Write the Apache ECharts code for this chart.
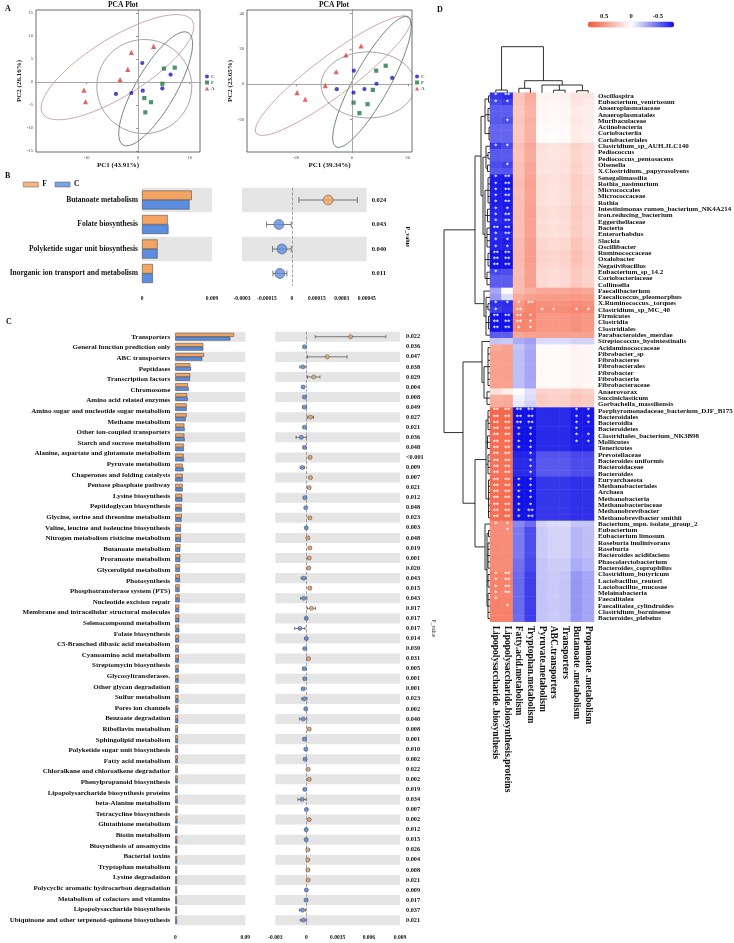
<!DOCTYPE html>
<html><head><meta charset="utf-8">
<script src="https://cdn.jsdelivr.net/npm/echarts@6/dist/echarts.min.js"></script>
<style>html,body{margin:0;padding:0;background:#fff}#c{width:734px;height:943px}</style>
</head><body><div id="c"></div>
<script>
// ---------------- DATA ----------------
// Panel A: PCA scores [PC1, PC2]
const PCA1_C = [[0.8,4.1],[-4.3,-2.6],[-1.3,-2.4],[0.9,-1.9],[6.3,1.6],[4.7,-1.4]];
const PCA1_F = [[5.0,2.9],[7.1,3.1],[4.7,-0.4],[1.2,-3.5],[2.5,-4.4],[1.4,-6.6]];
const PCA1_A = [[-10.5,-1.8],[-10.2,-4.3],[-3.5,0.5],[-2.0,2.7],[-1.3,6.4],[3.0,7.7]];
// ellipse: [cx, cy, axis1x, axis1y, axis2x, axis2y]
const PCA1_ELL_A = [-4.0,3.2,14.5,10.1,3.0,-5.3];
const PCA1_ELL_C = [1.2,-1.0,9.2,0,0,10.2];
const PCA1_ELL_F = [3.4,-1.5,6.3,12.2,3.4,-2.1];
const PCA1_XTICKS = [-10,0,10];
const PCA1_YTICKS = [-15,-10,-5,0,5,10,15];

const PCA2_C = [[-5.4,-2.8],[0.7,7.7],[0.6,-4.7],[4.5,-2.7],[8.8,0.3],[14.4,3.6]];
const PCA2_F = [[8.7,7.7],[12.1,10.5],[7.5,-3.2],[0.6,-10.4],[5.6,-11.3],[2.7,-16.4]];
const PCA2_A = [[-19.6,-4.7],[-16.7,-8.5],[-9.5,-0.8],[-5.6,7.1],[-2.1,16.6],[3.3,21.7]];
const PCA2_ELL_A = [-6.7,4.9,27.5,32.7,4.2,-9.0];
const PCA2_ELL_C = [5.8,-0.4,16.8,0,0,18.7];
const PCA2_ELL_F = [7.2,1.3,12.9,36.8,5.6,-4.9];
const PCA2_XTICKS = [-20,0,20];
const PCA2_YTICKS = [-20,0,20,40];

// Panel B
const B_CATS = ['Butanoate metabolism','Folate biosynthesis','Polyketide sugar unit biosynthesis','Inorganic ion transport and metabolism'];
const B_F = [0.0064,0.0033,0.0020,0.0014];
const B_C = [0.0061,0.0034,0.0020,0.0014];
const B_MEAN = [0.000218,-0.000078,-0.00006,-0.000072];
const B_ERR = [0.000176,0.000074,0.000056,0.000042];
const B_P = ['0.024','0.043','0.040','0.011'];
const B_BAR_TICKS = [0,0.009], B_BAR_LABELS = ['0','0.009'];
const B_CI_TICKS = [-0.0003,-0.00015,0,0.00015,0.0003,0.00045];
const B_CI_LABELS = ['-0.0003','-0.00015','0','0.00015','0.0003','0.00045'];

// Panel C
const C_CATS = ['Transporters','General function prediction only','ABC transporters','Peptidases','Transcription factors','Chromosome','Amino acid related enzymes','Amino sugar and nucleotide sugar metabolism','Methane metabolism','Other ion-coupled transporters','Starch and sucrose metabolism','Alanine, aspartate and glutamate metabolism','Pyruvate metabolism','Chaperones and folding catalysts','Pentose phosphate pathway','Lysine biosynthesis','Peptidoglycan biosynthesis','Glycine, serine and threonine metabolism','Valine, leucine and isoleucine biosynthesis','Nitrogen metabolism risticine metabolism','Butanoate metabolism','Proranoate metabolism','Glycerolipid metabolism','Photosynthesis','Phosphotransferase system (PTS)','Nucleotide excision repair','Membrane and intracellular structural molecules','Selenocompound metabolism','Folate biosynthesis','C5-Branched dibasic acid metabolism','Cyanoamino acid metabolism','Streptomycin biosynthesis','Glycosyltransferases.','Other glycan degradation','Sulfur metabolism','Pores ion channels','Benzoate degradation','Riboflavin metabolism','Sphingolipid metabolism','Polyketide sugar unit biosynthesis','Fatty acid metabolism','Chloralkane and chloroalkene degradatior','Phenylpropanoid biosynthesis','Lipopolysarcharide biosynthesis proteins','beta-Alanine metabolism','Tetracycline biosynthesis','Glutathione metabolism','Biotin metabolism','Biosynthesis of ansamycins','Bacterial toxins','Tryptophan metabolism','Lysine degradation','Polycyclic aromatic hydrocarbon degradation','Metabolism of cofactors and vitamins','Lipopolysaccharide biosynthesis','Ubiquinone and other terpenoid-quinone biosynthesis'];
const C_P = ['0.022','0.036','0.047','0.038','0.029','0.004','0.008','0.049','0.027','0.021','0.036','0.048','<0.001','0.009','0.007','0.021','0.012','0.048','0.023','0.003','0.048','0.019','0.001','0.020','0.043','0.015','0.043','0.017','0.017','0.017','0.014','0.030','0.031','0.005','0.001','0.001','0.023','0.002','0.040','0.008','0.001','0.010','0.002','0.022','0.002','0.019','0.034','0.007','0.002','0.012','0.015','0.026','0.004','0.008','0.021','0.009','0.017','0.037','0.021'];
const C_F = [0.0755,0.0360,0.0369,0.0193,0.0193,0.0163,0.0154,0.0146,0.0146,0.0116,0.0116,0.0111,0.0107,0.0094,0.0094,0.0094,0.0086,
 0.0082,0.0082,0.0073,0.0073,0.0066,0.0064,0.0060,0.0058,0.0056,0.0054,0.0052,0.0051,0.0049,0.0047,0.0046,0.0045,0.0043,0.0041,0.0040,0.0039,0.0038,0.0036,0.0035,0.0034,0.0033,0.0032,0.0031,0.0030,0.0030,0.0029,0.0028,0.0027,0.0027,0.0026,0.0025,0.0025,0.0024,0.0023,0.0023,0.0022,0.0022,0.0021];
const C_C = [0.0707,0.0360,0.0347,0.0202,0.0189,0.0172,0.0159,0.0146,0.0133,0.0120,0.0120,0.0111,0.0111,0.0107,0.0094,0.0094,0.0090,
 0.0083,0.0080,0.0073,0.0072,0.0064,0.0063,0.0059,0.0060,0.0055,0.0056,0.0050,0.0051,0.0052,0.0047,0.0047,0.0044,0.0044,0.0042,0.0041,0.0040,0.0038,0.0037,0.0034,0.0034,0.0034,0.0031,0.0031,0.0030,0.0029,0.0030,0.0028,0.0027,0.0026,0.0026,0.0025,0.0024,0.0024,0.0023,0.0023,0.0022,0.0022,0.0022];
const C_MEAN = [0.00424,-0.00019,0.00200,-0.00035,0.00070,-0.00032,-0.00019,-0.00019,0.00038,-0.00019,-0.00050,-0.00019,0.00035,-0.00040,0.00038,0.00026,-0.00016,
 -0.00007,0.00032,-0.00002,0.00013,0.00032,0.00026,0.00022,-0.00026,0.00032,-0.00026,0.00048,-0.00002,-0.00064,-0.00002,-0.00016,0.00019,-0.00020,-0.00016,-0.00032,-0.00020,-0.00007,-0.00032,0.00026,
 -0.00019,-0.00006,-0.00013,0.00016,0.00026,-0.00016,-0.00042,-0.00001,0.00026,-0.00003,-0.00003,0.00013,0.00013,0.00013,0.00016,-0.00001,-0.00003,-0.00038,-0.00029];
const C_ERR = [0.0034,0.00012,0.0019,0.0003,0.0006,0.00012,0.00012,0.0002,0.0003,0.00012,0.0005,0.00012,0.00012,0.0002,0.00012,0.00012,0.00012,
 0.0001,0.00012,0.0001,0.00012,0.00012,0.00012,0.0001,0.00025,0.00012,0.0003,0.0004,0.00012,0.0005,0.00012,0.00012,0.00012,0.00015,0.00012,0.00015,0.00025,0.0001,0.00035,0.00012,
 0.00012,0.0001,0.00012,0.00012,0.00012,0.00012,0.0004,0.0001,0.00012,0.0001,0.0001,0.00012,0.00012,0.00012,0.00012,0.0001,0.0001,0.0003,0.0003];
const C_BAR_TICKS = [0,0.09], C_BAR_LABELS = ['0','0.09'];
const C_CI_TICKS = [-0.003,0,0.003,0.006,0.009];
const C_CI_LABELS = ['-0.003','0','0.0035','0.006','0.009'];

// Panel D
const D_COLS = ['Lipopolysaccharide .biosynthesis','Lipopolysaccharide.biosynthesis.proteins','Fatty.acid.metabolism','Tryptophan.metabolism','Pyruvate.metabolism','ABC.transporters','Transporters','Butanoate .metabolism','Propanoate .metabolism'];
const D_ROWS = ['Oscillospira','Eubacterium_ventriosum','Anaeroplasmataceae','Anaeroplasmatales','Muribaculaceae','Actinobacteria','Coriobacteriia','Coriobacteriales','Clostridium_sp_AUH.JLC140','Pediococcus','Pediococcus_pentosaceus','Olsenella','X.Clostridium._papyrosolvens','Senegalimassilia','Rothia_nasimurium','Micrococcales','Micrococcaceae','Rothia','Intestinimonas rumen_bacterium_NK4A214','iron.reducing_bacterium','Eggerthellaceae','Bacteria','Enterorhabdus','Slackia','Oscillibacter','Ruminococcaceae','Oxalobacter','Negativibacillus','Eubacterium_sp_14.2','Coriobacteriaceae','Collinsella','Faecalibacterium','Faecalicoccus_pleomorphus','X.Ruminococcus._torques','Clostridium_sp_MC_40','Firmicutes','Clostridia','Clostridiales','Parabacteroides_merdae','Streptococcus_hyointestinalis','Acidaminococcaceae','Fibrobacter_sp','Fibrobacteres','Fibrobacterales','Fibrobacter','Fibrobacteria','Fibrobacteraceae','Anaerovorax','Succiniclasticum','Gorbachella_massiliensis','Porphyromonadaceae_bacterium_DJF_B175','Bacteroidales','Bacteroidia','Bacteroidetes','Clostridiales_bacterium_NK3B98','Mollicutes','Tenericutes','Prevotellaceae','Bacteroides uniformis','Bacteroidaceae','Bacteroides','Euryarchaeota','Methanobacteriales','Archaea','Methanobacteria','Methanobacteriaceae','Methanobrevibacter','Methanobrevibacter smithii','Bacterium_mpn. isolate_group_2','Eubacterium','Eubacterium limosum','Roseburia inulinivorans','Roseburia','Bacteroides acidifaciens','Phascolarctobacterium','Bacteroides_coprophilus','Clostridium_butyricum','Lactobacillus_reuteri','Lactobacillus_mucosae','Melainabacteria','Faecalitalea','Faecalitalea_cylindroides','Clostridium_borninense','Bacteroides_plebeius'];
const HEAT = [
[-0.68,-0.72,0.28,0.40,0.06,0.05,0.06,0.14,0.12],
[-0.62,-0.66,0.27,0.38,0.05,0.04,0.05,0.12,0.10],
[-0.55,-0.55,0.26,0.36,0.04,0.03,0.04,0.10,0.08],
[-0.55,-0.55,0.26,0.36,0.04,0.03,0.04,0.10,0.08],
[-0.56,-0.60,0.27,0.38,0.04,0.03,0.04,0.12,0.09],
[-0.52,-0.52,0.26,0.37,0.03,0.02,0.03,0.10,0.08],
[-0.52,-0.52,0.26,0.37,0.02,0.01,0.02,0.09,0.07],
[-0.52,-0.52,0.26,0.37,0.02,0.01,0.02,0.09,0.07],
[-0.68,-0.62,0.30,0.42,0.15,0.13,0.15,0.22,0.18],
[-0.56,-0.56,0.28,0.40,0.13,0.12,0.14,0.20,0.16],
[-0.56,-0.56,0.28,0.40,0.13,0.12,0.14,0.20,0.16],
[-0.60,-0.64,0.30,0.42,0.14,0.13,0.15,0.22,0.17],
[-0.56,-0.58,0.29,0.41,0.13,0.12,0.14,0.20,0.16],
[-0.76,-0.78,0.30,0.44,0.16,0.14,0.16,0.24,0.19],
[-0.78,-0.80,0.31,0.45,0.16,0.14,0.16,0.24,0.19],
[-0.76,-0.78,0.30,0.44,0.15,0.13,0.15,0.23,0.18],
[-0.76,-0.78,0.30,0.44,0.15,0.13,0.15,0.23,0.18],
[-0.76,-0.78,0.30,0.44,0.15,0.13,0.15,0.23,0.18],
[-0.74,-0.76,0.31,0.45,0.17,0.15,0.17,0.25,0.20],
[-0.74,-0.76,0.31,0.45,0.17,0.15,0.17,0.25,0.20],
[-0.72,-0.74,0.30,0.44,0.16,0.14,0.16,0.24,0.19],
[-0.76,-0.78,0.31,0.45,0.17,0.15,0.17,0.25,0.20],
[-0.72,-0.74,0.30,0.44,0.16,0.14,0.16,0.24,0.19],
[-0.74,-0.76,0.32,0.46,0.19,0.17,0.19,0.28,0.22],
[-0.74,-0.74,0.32,0.46,0.19,0.17,0.19,0.28,0.22],
[-0.82,-0.82,0.33,0.47,0.21,0.19,0.21,0.30,0.24],
[-0.82,-0.82,0.33,0.47,0.21,0.19,0.21,0.30,0.24],
[-0.80,-0.80,0.32,0.46,0.20,0.18,0.20,0.28,0.23],
[-0.62,-0.60,0.31,0.45,0.18,0.16,0.18,0.26,0.21],
[-0.55,-0.55,0.32,0.46,0.18,0.16,0.18,0.26,0.21],
[-0.55,-0.55,0.32,0.46,0.18,0.16,0.18,0.26,0.21],
[-0.30,0.02,0.32,0.38,0.42,0.42,0.42,0.44,0.42],
[-0.35,-0.12,0.40,0.45,0.48,0.48,0.48,0.50,0.48],
[-0.70,-0.72,0.50,0.58,0.52,0.52,0.52,0.55,0.52],
[-0.65,-0.70,0.52,0.58,0.55,0.55,0.55,0.58,0.56],
[-0.85,-0.85,0.60,0.60,0.50,0.50,0.50,0.52,0.50],
[-0.88,-0.88,0.58,0.58,0.50,0.50,0.50,0.52,0.50],
[-0.88,-0.88,0.58,0.58,0.50,0.50,0.50,0.52,0.50],
[-0.55,-0.55,0.42,0.45,0.45,0.45,0.45,0.45,0.45],
[-0.20,-0.18,-0.28,-0.32,-0.12,-0.12,-0.12,-0.15,-0.15],
[0.42,0.45,-0.20,-0.28,0.03,0.02,0.02,0.05,0.04],
[0.45,0.45,-0.22,-0.30,0.03,0.02,0.03,0.05,0.04],
[0.45,0.45,-0.22,-0.30,0.03,0.02,0.03,0.05,0.04],
[0.45,0.45,-0.22,-0.30,0.03,0.02,0.03,0.05,0.04],
[0.45,0.45,-0.22,-0.30,0.03,0.02,0.03,0.05,0.04],
[0.45,0.45,-0.22,-0.30,0.03,0.02,0.03,0.05,0.04],
[0.45,0.45,-0.22,-0.30,0.03,0.02,0.03,0.05,0.04],
[0.15,0.08,0.00,-0.10,0.22,0.20,0.20,0.25,0.22],
[0.38,0.40,-0.05,-0.12,0.25,0.22,0.22,0.28,0.25],
[0.40,0.42,-0.08,-0.15,0.24,0.22,0.22,0.26,0.24],
[0.72,0.72,-0.86,-0.86,-0.72,-0.72,-0.72,-0.78,-0.78],
[0.72,0.72,-0.86,-0.86,-0.72,-0.72,-0.72,-0.78,-0.78],
[0.72,0.72,-0.86,-0.86,-0.72,-0.72,-0.72,-0.78,-0.78],
[0.72,0.72,-0.86,-0.86,-0.72,-0.72,-0.72,-0.78,-0.78],
[0.70,0.70,-0.80,-0.80,-0.72,-0.72,-0.72,-0.76,-0.76],
[0.70,0.70,-0.80,-0.80,-0.72,-0.72,-0.72,-0.76,-0.76],
[0.70,0.70,-0.80,-0.80,-0.72,-0.72,-0.72,-0.76,-0.76],
[0.68,0.68,-0.74,-0.74,-0.58,-0.58,-0.58,-0.62,-0.62],
[0.68,0.68,-0.72,-0.72,-0.56,-0.56,-0.56,-0.60,-0.60],
[0.68,0.68,-0.72,-0.72,-0.56,-0.56,-0.56,-0.60,-0.60],
[0.68,0.68,-0.72,-0.72,-0.56,-0.56,-0.56,-0.60,-0.60],
[0.70,0.70,-0.82,-0.82,-0.68,-0.68,-0.68,-0.70,-0.70],
[0.70,0.70,-0.82,-0.82,-0.68,-0.68,-0.68,-0.70,-0.70],
[0.70,0.70,-0.82,-0.82,-0.68,-0.68,-0.68,-0.70,-0.70],
[0.70,0.70,-0.82,-0.82,-0.68,-0.68,-0.68,-0.70,-0.70],
[0.70,0.70,-0.82,-0.82,-0.68,-0.68,-0.68,-0.70,-0.70],
[0.70,0.70,-0.84,-0.84,-0.68,-0.68,-0.68,-0.70,-0.70],
[0.70,0.70,-0.84,-0.84,-0.68,-0.68,-0.68,-0.70,-0.70],
[0.55,0.55,-0.40,-0.50,-0.15,-0.12,-0.12,-0.20,-0.20],
[0.55,0.55,-0.45,-0.60,-0.18,-0.15,-0.15,-0.25,-0.22],
[0.55,0.55,-0.45,-0.60,-0.18,-0.15,-0.15,-0.25,-0.22],
[0.55,0.55,-0.45,-0.60,-0.18,-0.15,-0.15,-0.25,-0.22],
[0.55,0.55,-0.45,-0.60,-0.18,-0.15,-0.15,-0.25,-0.22],
[0.55,0.55,-0.45,-0.60,-0.18,-0.15,-0.15,-0.25,-0.22],
[0.55,0.55,-0.48,-0.62,-0.20,-0.17,-0.17,-0.28,-0.24],
[0.55,0.55,-0.48,-0.62,-0.20,-0.17,-0.17,-0.28,-0.24],
[0.60,0.60,-0.50,-0.65,-0.20,-0.18,-0.20,-0.35,-0.30],
[0.60,0.60,-0.50,-0.65,-0.20,-0.18,-0.20,-0.35,-0.30],
[0.60,0.60,-0.50,-0.65,-0.20,-0.18,-0.20,-0.35,-0.30],
[0.58,0.58,-0.50,-0.65,-0.20,-0.18,-0.20,-0.35,-0.30],
[0.60,0.60,-0.50,-0.65,-0.20,-0.18,-0.20,-0.35,-0.30],
[0.60,0.60,-0.50,-0.65,-0.20,-0.18,-0.20,-0.35,-0.30],
[0.60,0.60,-0.50,-0.65,-0.20,-0.18,-0.20,-0.35,-0.30],
[0.60,0.60,-0.50,-0.65,-0.20,-0.18,-0.20,-0.35,-0.30]
];
// significance: 0 none, 1 '*', 2 '**' for each of the 9 columns
const STARS = ['120000000','110000000','000000000','000000000','010000000','000000000','000000000','000000000','110000000','000000000','000000000','010000000','000000000',
'120000000','120000000','120000000','120000000','120000000','110000000','120000000','120000000','220000000','120000000','110000000','110000000','220000000','220000000','220000000','100000000','000000000','000000000',
'000000000','000000000','111200000','102011011','222100000','222100000','221100000','000000000',
'000000000','000000000','000000000','000000000','000000000','000000000','000000000','000000000','000000000','000000000','000000000',
'222200011','222200011','222200011','221100010','221100011','221100011','221100000','220100000','220100000','220100000','220100000',
'221100000','221100000','221100000','221100000','221100000','221200000','221200000',
'110000000','010000000','000000000','000000000','000000000','000000000','000000000','000000000','120000000','120000000','120000000','120000000','100000000','010000000','000000000','000000000'];
// dendrograms: [height, [children]] ; leaves = row/column index
const ROW_TREE = [46, [
  [15, [
    [9, [
      [5, [[1.5,[0,1]], [2,[2,3,4]], [1,[5,6,7]]]],
      [7, [
        [4, [8, [2,[9,10]], [2.5,[11,12]]]],
        [5, [[2,[13,14,15,16,17]], [2.5,[18,19,20]], [3,[21,22,23,24]], [2,[25,26,27]], [3,[28,29,30]]]]
      ]]
    ]],
    [6, [31, [4, [32, [2,[33,34]], [1.5,[35,36,37]], 38]]]]
  ]],
  [27, [
    [8, [39, [6, [[2,[40,41,42,43,44,45,46]], [3,[47,48,49]]]]]],
    [15, [
      [4, [[2,[50,51,52,53]], [2.5,[54,55,56]], [2,[57,58,59,60]], [1.5,[61,62,63,64,65,66,67]]]],
      [5, [68, [3, [[1.5,[69,70]], [2,[71,72,73,74,75]], [2,[76,77,78]], [2,[79,80,81,82,83]]]]]]
    ]]
  ]]
]];
const COL_TREE = [46, [[2.7,[0,1]], [12, [[4.4,[2,3]], [7.7, [4, [2.5,[5,6]], [2,[7,8]]]]]]]];
const CB_TICKS = [-0.5,0,0.5];

// ---------------- STYLE ----------------
const SERIF = "'Liberation Serif','Times New Roman',serif";
const ORANGE = '#F3A462', BLUE = '#5B8DE0', BAND = '#e5e5e5', EDGE = '#3a3a3a';
const PCA_COL = {C:'#1c1cb4', F:'#1f7a45', A:'#e03a3a'};
const ELL_COL = {A:'#c98e8e', C:'#8c8c98', F:'#4f6a5c'};

function ellipse(p){ const pts=[]; for(let i=0;i<=90;i++){const t=2*Math.PI*i/90; pts.push([p[0]+p[2]*Math.cos(t)+p[4]*Math.sin(t), p[1]+p[3]*Math.cos(t)+p[5]*Math.sin(t)]);} return pts; }
function tickFmt(ticks, labels){ return v => { let b=0; ticks.forEach((t,i)=>{ if(Math.abs(t-v)<Math.abs(ticks[b]-v)) b=i; }); return labels[b]; }; }
function dendro(tree){ const segs=[]; (function walk(n){ if(typeof n==='number') return {pos:n,h:0}; const h=n[0]; const cs=n[1].map(walk); cs.forEach(c=>segs.push([c.h,c.pos,h,c.pos])); segs.push([h,cs[0].pos,h,cs[cs.length-1].pos]); return {pos:(cs[0].pos+cs[cs.length-1].pos)/2,h:h}; })(tree); return segs; }
function lineRender(params, api){ const a=api.coord([api.value(0),api.value(1)]), b=api.coord([api.value(2),api.value(3)]); return {type:'line',shape:{x1:a[0],y1:a[1],x2:b[0],y2:b[1]},style:{stroke:'#1a1a1a',lineWidth:0.9}}; }
function errRender(cap){ return function(params, api){ const idx=api.value(2); const a=api.coord([api.value(0),idx]), b=api.coord([api.value(1),idx]); const st={stroke:'#5a5a5a',lineWidth:0.8};
  return {type:'group',children:[{type:'line',shape:{x1:a[0],y1:a[1],x2:b[0],y2:b[1]},style:st},{type:'line',shape:{x1:a[0],y1:a[1]-cap,x2:a[0],y2:a[1]+cap},style:st},{type:'line',shape:{x1:b[0],y1:b[1]-cap,x2:b[0],y2:b[1]+cap},style:st}]}; }; }

const bold = (s, extra) => Object.assign({fontFamily:SERIF, fontWeight:'bold', fontSize:s, color:'#111'}, extra||{});
const noAxis = {axisLine:{show:false}, axisTick:{show:false}, splitLine:{show:false}};

// ---------------- GRIDS ----------------
const grids = [
 {left:36, top:10, width:164, height:142, show:true, borderColor:'#444', borderWidth:0.8},   //0 PCA1
 {left:247, top:10, width:165, height:142, show:true, borderColor:'#444', borderWidth:0.8},  //1 PCA2
 {left:142, top:187.75, width:70, height:98},          //2 B bars
 {left:242, top:187.75, width:124.7, height:98},       //3 B CI
 {left:175.3, top:331.7, width:70, height:593.5},      //4 C bars
 {left:275.3, top:331.7, width:124.7, height:593.5},   //5 C CI
 {left:490, top:92.7, width:104, height:529},          //6 heatmap
 {left:443, top:92.7, width:47, height:529},           //7 row dendro
 {left:490, top:46, width:104, height:46.7},           //8 col dendro
 {left:588, top:21.5, width:86, height:6}              //9 colorbar axis
].map(g => Object.assign({outerBoundsMode:'none', containLabel:false}, g));

const pcaTick = ticks => ({customValues:ticks, length:2, lineStyle:{color:'#444',width:0.6}});
const pcaLabel = ticks => ({customValues:ticks, fontSize:4.5, color:'#444', margin:3, fontFamily:SERIF});
const axLine = {lineStyle:{color:'#444', width:0.8}};

const rowIds59 = C_P.map((_, i) => 'r' + i);
const splitBands = {show:true, interval:0, areaStyle:{color:[BAND,'rgba(0,0,0,0)']}};

const xAxis = [
 {gridIndex:0, type:'value', min:-19.8, max:12, axisLine:axLine, axisTick:pcaTick(PCA1_XTICKS), axisLabel:pcaLabel(PCA1_XTICKS), splitLine:{show:false}, name:'PC1 (43.91%)', nameLocation:'middle', nameGap:10, nameTextStyle:bold(7)},
 {gridIndex:1, type:'value', min:-37.5, max:21.5, axisLine:axLine, axisTick:pcaTick(PCA2_XTICKS), axisLabel:pcaLabel(PCA2_XTICKS), splitLine:{show:false}, name:'PC1 (39.34%)', nameLocation:'middle', nameGap:10, nameTextStyle:bold(7)},
 {gridIndex:2, type:'value', min:0, max:0.009, offset:5, axisLine:{lineStyle:{color:'#222',width:0.8}}, axisTick:{customValues:B_BAR_TICKS, inside:true, length:3, lineStyle:{color:'#222'}}, axisLabel:Object.assign({customValues:B_BAR_TICKS, formatter:tickFmt(B_BAR_TICKS,B_BAR_LABELS), margin:5}, bold(5.5)), splitLine:{show:false}},
 {gridIndex:3, type:'value', min:-0.0003, max:0.00045, offset:5, axisLine:{lineStyle:{color:'#222',width:0.8}}, axisTick:{customValues:B_CI_TICKS, inside:true, length:3, lineStyle:{color:'#222'}}, axisLabel:Object.assign({customValues:B_CI_TICKS, formatter:tickFmt(B_CI_TICKS,B_CI_LABELS), margin:5}, bold(5.5)), splitLine:{show:false}},
 {gridIndex:4, type:'value', min:0, max:0.09, offset:4, axisLine:{lineStyle:{color:'#222',width:0.8}}, axisTick:{customValues:C_BAR_TICKS, inside:true, length:3, lineStyle:{color:'#222'}}, axisLabel:Object.assign({customValues:C_BAR_TICKS, formatter:tickFmt(C_BAR_TICKS,C_BAR_LABELS), margin:5}, bold(5.5)), splitLine:{show:false}},
 {gridIndex:5, type:'value', min:-0.003, max:0.009, offset:4, axisLine:{lineStyle:{color:'#222',width:0.8}}, axisTick:{customValues:C_CI_TICKS, inside:true, length:3, lineStyle:{color:'#222'}}, axisLabel:Object.assign({customValues:C_CI_TICKS, formatter:tickFmt(C_CI_TICKS,C_CI_LABELS), margin:5}, bold(5.5)), splitLine:{show:false}},
 Object.assign({gridIndex:6, type:'category', data:D_COLS, position:'bottom', axisLabel:Object.assign({interval:0, rotate:-90, margin:4}, bold(9.5))}, noAxis),
 {gridIndex:7, type:'value', min:0, max:47, inverse:true, show:false},
 {gridIndex:8, type:'value', min:-0.5, max:8.5, show:false},
 Object.assign({gridIndex:9, type:'value', min:-0.8, max:0.8, inverse:true, position:'top', axisLabel:Object.assign({customValues:CB_TICKS, margin:2}, bold(6.5))}, noAxis)
];
const yAxis = [
 {gridIndex:0, type:'value', min:-15.2, max:15.6, axisLine:axLine, axisTick:pcaTick(PCA1_YTICKS), axisLabel:pcaLabel(PCA1_YTICKS), splitLine:{show:false}, name:'PC2 (26.16%)', nameLocation:'middle', nameGap:11, nameTextStyle:bold(7)},
 {gridIndex:1, type:'value', min:-38.4, max:42.1, axisLine:axLine, axisTick:pcaTick(PCA2_YTICKS), axisLabel:pcaLabel(PCA2_YTICKS), splitLine:{show:false}, name:'PC2 (23.65%)', nameLocation:'middle', nameGap:11, nameTextStyle:bold(7)},
 Object.assign({gridIndex:2, type:'category', position:'left', inverse:true, data:B_CATS, axisLabel:Object.assign({interval:0, margin:4}, bold(7.5))}, noAxis, {splitArea:splitBands}),
 Object.assign({gridIndex:3, type:'category', inverse:true, position:'right', data:B_CATS, axisLabel:Object.assign({interval:0, margin:5, formatter:(v,i)=>B_P[i]}, bold(6.5)), name:'P_value', nameLocation:'middle', nameRotate:-90, nameGap:38, nameTextStyle:bold(6)}, noAxis, {splitArea:splitBands}),
 Object.assign({gridIndex:4, type:'category', position:'left', inverse:true, data:rowIds59, axisLabel:{show:false, interval:0}}, noAxis, {splitArea:splitBands}),
 Object.assign({gridIndex:4, type:'category', position:'left', inverse:true, data:C_CATS, axisLabel:Object.assign({interval:0, margin:5}, bold(7))}, noAxis),
 Object.assign({gridIndex:5, type:'category', inverse:true, position:'right', data:rowIds59, axisLabel:Object.assign({interval:0, margin:6, formatter:(v,i)=>C_P[i]}, bold(6.3)), name:'P_value', nameLocation:'middle', nameRotate:-90, nameGap:30, nameTextStyle:{fontFamily:SERIF, fontSize:5.5, color:'#222'}}, noAxis, {splitArea:splitBands}),
 Object.assign({gridIndex:6, type:'category', inverse:true, position:'right', data:D_ROWS, axisLabel:Object.assign({interval:0, margin:4}, bold(7))}, noAxis),
 {gridIndex:7, type:'value', min:-0.5, max:83.5, inverse:true, show:false},
 {gridIndex:8, type:'value', min:0, max:46.7, show:false},
 {gridIndex:9, type:'value', show:false}
];

// ---------------- SERIES ----------------
const series = [];
const cross = {silent:true, symbol:['none','none'], label:{show:false}, lineStyle:{color:'#cfcfcf', type:'solid', width:0.6}, data:[{xAxis:0},{yAxis:0}]};
function pcaSeries(ax, C, F, A, eA, eC, eF){
  series.push({type:'scatter', name:'C', xAxisIndex:ax, yAxisIndex:ax, data:C, symbol:'circle', symbolSize:4.2, itemStyle:{color:PCA_COL.C}, markLine:cross, z:5});
  series.push({type:'scatter', name:'F', xAxisIndex:ax, yAxisIndex:ax, data:F, symbol:'rect', symbolSize:4.2, itemStyle:{color:PCA_COL.F}, z:5});
  series.push({type:'scatter', name:'A', xAxisIndex:ax, yAxisIndex:ax, data:A, symbol:'triangle', symbolSize:5.2, itemStyle:{color:PCA_COL.A}, z:5});
  [[eA,ELL_COL.A],[eC,ELL_COL.C],[eF,ELL_COL.F]].forEach(([e,c]) => series.push({type:'line', xAxisIndex:ax, yAxisIndex:ax, data:ellipse(e), showSymbol:false, symbol:'none', silent:true, lineStyle:{color:c, width:0.8}, z:3}));
}
pcaSeries(0, PCA1_C, PCA1_F, PCA1_A, PCA1_ELL_A, PCA1_ELL_C, PCA1_ELL_F);
pcaSeries(1, PCA2_C, PCA2_F, PCA2_A, PCA2_ELL_A, PCA2_ELL_C, PCA2_ELL_F);

const zeroLine = {silent:true, symbol:['none','none'], label:{show:false}, lineStyle:{color:'#8a8a8a', type:'dashed', width:0.8}, data:[{xAxis:0}]};
// B
series.push({type:'bar', name:'F', xAxisIndex:2, yAxisIndex:2, data:B_F, barWidth:9.5, barGap:'0%', itemStyle:{color:ORANGE, borderColor:EDGE, borderWidth:0.5}});
series.push({type:'bar', name:'C', xAxisIndex:2, yAxisIndex:2, data:B_C, barWidth:9.5, barGap:'0%', itemStyle:{color:BLUE, borderColor:EDGE, borderWidth:0.5}});
series.push({type:'custom', xAxisIndex:3, yAxisIndex:3, renderItem:errRender(3), encode:{x:[0,1], y:2}, data:B_MEAN.map((m,i)=>[m-B_ERR[i], m+B_ERR[i], i]), silent:true, z:3});
series.push({type:'scatter', xAxisIndex:3, yAxisIndex:3, data:B_MEAN.map((m,i)=>[m,i]), symbolSize:10, itemStyle:{color:p=>p.value[0]>=0?ORANGE:BLUE, borderColor:'#555', borderWidth:0.7}, markLine:zeroLine, z:5});
// C
series.push({type:'bar', name:'F', xAxisIndex:4, yAxisIndex:4, data:C_F, barWidth:3.8, barGap:'0%', itemStyle:{color:ORANGE, borderColor:EDGE, borderWidth:0.5}});
series.push({type:'bar', name:'C', xAxisIndex:4, yAxisIndex:4, data:C_C, barWidth:3.8, barGap:'0%', itemStyle:{color:BLUE, borderColor:EDGE, borderWidth:0.5}});
series.push({type:'custom', xAxisIndex:5, yAxisIndex:6, renderItem:errRender(1.6), encode:{x:[0,1], y:2}, data:C_MEAN.map((m,i)=>[m-C_ERR[i], m+C_ERR[i], i]), silent:true, z:3});
series.push({type:'scatter', xAxisIndex:5, yAxisIndex:6, data:C_MEAN.map((m,i)=>[m,i]), symbolSize:4.2, itemStyle:{color:p=>p.value[0]>=0?ORANGE:BLUE, borderColor:'#4a4a4a', borderWidth:0.6}, markLine:zeroLine, z:5});
// D
const heatData = []; HEAT.forEach((row,r)=>row.forEach((v,c)=>heatData.push([c, r, v, +STARS[r][c]])));
const HEAT_IDX = series.length;
series.push({type:'heatmap', xAxisIndex:6, yAxisIndex:7, data:heatData, label:{show:true, color:'#fff', fontSize:6, fontFamily:'DejaVu Sans', fontWeight:'bold', formatter:p=>['','*','**'][p.value[3]]}, emphasis:{disabled:true}});
series.push({type:'custom', xAxisIndex:7, yAxisIndex:8, renderItem:lineRender, encode:{x:[0,2], y:[1,3]}, data:dendro(ROW_TREE), silent:true});
series.push({type:'custom', xAxisIndex:8, yAxisIndex:9, renderItem:lineRender, encode:{x:[0,2], y:[1,3]}, data:dendro(COL_TREE).map(s=>[s[1],s[0],s[3],s[2]]), silent:true});

const pcaLegend = left => ({left:left, top:74, orient:'vertical', itemWidth:4, itemHeight:4, itemGap:1, padding:0, data:['C','F','A'], textStyle:{fontSize:5, fontFamily:SERIF, fontWeight:'bold', padding:[0,0,0,-3]}, selectedMode:false});

const option = {
  animation:false, backgroundColor:'#fff',
  textStyle:{fontFamily:SERIF},
  title:[
    {text:'PCA Plot', left:123, top:1, textAlign:'center', padding:0, textStyle:bold(7.5)},
    {text:'PCA Plot', left:334, top:1, textAlign:'center', padding:0, textStyle:bold(7.5)}
  ],
  legend:[
    pcaLegend(205), pcaLegend(415),
    {left:23, top:180.5, orient:'horizontal', itemWidth:15, itemHeight:5, itemGap:8, padding:0, selectedMode:false, textStyle:bold(7.5, {padding:[0,0,0,-1]}),
     data:[{name:'F', icon:'rect', itemStyle:{color:ORANGE, borderColor:EDGE, borderWidth:0.5}}, {name:'C', icon:'rect', itemStyle:{color:BLUE, borderColor:EDGE, borderWidth:0.5}}]}
  ],
  visualMap:{type:'continuous', seriesIndex:HEAT_IDX, dimension:2, min:-0.8, max:0.8, orient:'horizontal', inverse:true, left:588, top:21.5, itemWidth:6, itemHeight:86, padding:0, calculable:false, text:null, hoverLink:false, inRange:{color:['#1212e6','#ffffff','#f3583a']}},
  grid:grids, xAxis:xAxis, yAxis:yAxis, series:series,
  graphic:[
    {type:'text', left:5, top:5, style:{text:'A', font:'bold 8px '+SERIF, fill:'#111'}},
    {type:'text', left:5, top:172, style:{text:'B', font:'bold 8px '+SERIF, fill:'#111'}},
    {type:'text', left:6, top:318, style:{text:'C', font:'bold 8px '+SERIF, fill:'#111'}},
    {type:'text', left:437, top:6, style:{text:'D', font:'bold 8px '+SERIF, fill:'#111'}}
  ]
};
const chart = echarts.init(document.getElementById('c'), null, {renderer:'canvas'});
chart.setOption(option);
</script></body></html>
